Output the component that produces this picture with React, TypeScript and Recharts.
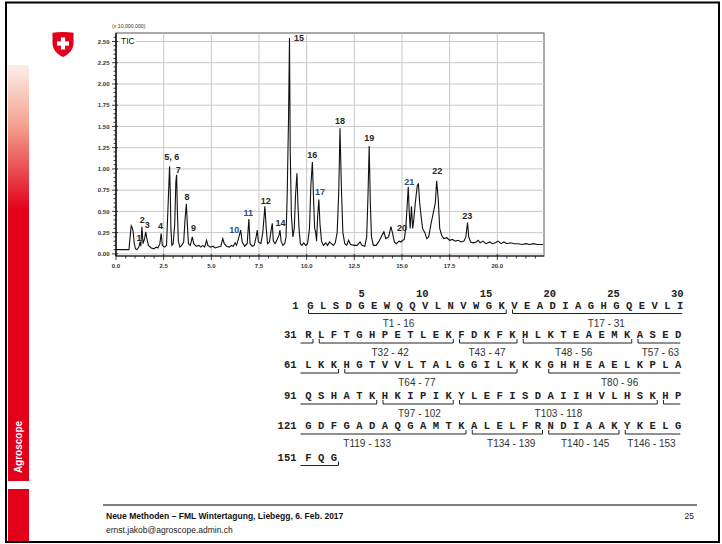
import React from "react";
import { CartesianGrid, Line, LineChart, ReferenceDot, XAxis, YAxis } from "recharts";

// TIC trace: retention time (min) and intensity (x 10,000,000)
const rtMin = [
  0.0, 0.35, 0.68, 0.74, 0.8, 0.86, 0.9, 0.96, 1.02, 1.1,
  1.2, 1.26, 1.3, 1.36, 1.42, 1.5, 1.56, 1.62, 1.7, 1.85,
  2.0, 2.1, 2.2, 2.3, 2.37, 2.43, 2.55, 2.65, 2.72, 2.77,
  2.81, 2.85, 2.88, 2.93, 3.0, 3.08, 3.14, 3.18, 3.22, 3.27,
  3.35, 3.45, 3.55, 3.62, 3.69, 3.74, 3.8, 3.9, 4.0, 4.08,
  4.2, 4.35, 4.45, 4.55, 4.65, 4.75, 4.82, 4.95, 5.1, 5.2,
  5.35, 5.5, 5.6, 5.68, 5.8, 5.95, 6.05, 6.15, 6.25, 6.32,
  6.45, 6.54, 6.62, 6.75, 6.88, 6.97, 7.03, 7.15, 7.25, 7.35,
  7.41, 7.47, 7.6, 7.7, 7.81, 7.88, 7.95, 8.05, 8.15, 8.2,
  8.25, 8.35, 8.45, 8.55, 8.6, 8.66, 8.75, 8.85, 8.92, 8.98,
  9.05, 9.1, 9.14, 9.2, 9.28, 9.35, 9.42, 9.49, 9.54, 9.6,
  9.67, 9.75, 9.85, 9.95, 10.05, 10.15, 10.22, 10.3, 10.37, 10.42,
  10.47, 10.52, 10.58, 10.64, 10.7, 10.78, 10.88, 11.0, 11.1, 11.2,
  11.3, 11.4, 11.5, 11.6, 11.68, 11.75, 11.82, 11.9, 12.0, 12.1,
  12.2, 12.3, 12.5, 12.65, 12.8, 12.9, 13.05, 13.15, 13.22, 13.28,
  13.34, 13.4, 13.5, 13.65, 13.8, 13.95, 14.05, 14.15, 14.3, 14.42,
  14.5, 14.6, 14.7, 14.85, 14.95, 15.05, 15.12, 15.2, 15.28, 15.33,
  15.38, 15.43, 15.5, 15.56, 15.62, 15.7, 15.8, 15.86, 15.93, 16.0,
  16.08, 16.2, 16.3, 16.4, 16.52, 16.64, 16.75, 16.82, 16.9, 16.98,
  17.08, 17.2, 17.35, 17.5, 17.65, 17.8, 17.95, 18.1, 18.25, 18.35,
  18.44, 18.5, 18.6, 18.75, 18.9, 19.0, 19.1, 19.25, 19.4, 19.6,
  19.75, 19.9, 20.05, 20.2, 20.35, 20.5, 20.7, 20.9, 21.1, 21.3,
  21.5, 21.7, 21.9, 22.1, 22.4,
];
const ticE7 = [
  0.05, 0.05, 0.05, 0.2, 0.33, 0.3, 0.26, 0.12, 0.06, 0.05,
  0.08, 0.14, 0.09, 0.32, 0.12, 0.18, 0.26, 0.18, 0.1, 0.07,
  0.06, 0.08, 0.07, 0.12, 0.24, 0.1, 0.08, 0.1, 0.5, 0.8,
  1.03, 0.7, 0.3, 0.1, 0.12, 0.35, 0.85, 0.93, 0.5, 0.15,
  0.08, 0.1, 0.14, 0.4, 0.59, 0.35, 0.12, 0.1, 0.2, 0.12,
  0.09, 0.1, 0.08, 0.1, 0.08, 0.16, 0.1, 0.08, 0.09, 0.07,
  0.08, 0.09, 0.18, 0.12, 0.09, 0.08, 0.1, 0.09, 0.13, 0.1,
  0.2, 0.28, 0.14, 0.09, 0.12, 0.41, 0.12, 0.09, 0.1, 0.2,
  0.28, 0.14, 0.12, 0.25, 0.56, 0.3, 0.12, 0.14, 0.3, 0.36,
  0.15, 0.12, 0.17, 0.22, 0.28, 0.15, 0.1, 0.12, 0.2, 0.7,
  1.6, 2.54, 1.2, 0.45, 0.2, 0.3, 0.7, 0.95, 0.6, 0.3,
  0.12, 0.1, 0.13, 0.1, 0.12, 0.3, 0.8, 1.08, 0.6, 0.3,
  0.26, 0.15, 0.45, 0.64, 0.35, 0.15, 0.1, 0.13, 0.1, 0.14,
  0.12, 0.1, 0.13, 0.25, 0.7, 1.48, 0.8, 0.25, 0.12, 0.1,
  0.16, 0.11, 0.1, 0.1, 0.14, 0.1, 0.09, 0.2, 0.7, 1.27,
  0.6, 0.2, 0.1, 0.1, 0.15, 0.22, 0.26, 0.18, 0.2, 0.32,
  0.25, 0.14, 0.12, 0.15, 0.14, 0.16, 0.17, 0.3, 0.6, 0.79,
  0.5, 0.3, 0.56, 0.3, 0.4, 0.6, 0.8, 0.83, 0.6, 0.45,
  0.3, 0.25, 0.18, 0.2, 0.35, 0.48, 0.6, 0.86, 0.65, 0.3,
  0.22, 0.18, 0.19, 0.16, 0.17, 0.15, 0.16, 0.14, 0.15, 0.2,
  0.37, 0.2, 0.14, 0.13, 0.14, 0.16, 0.13, 0.15, 0.12, 0.14,
  0.12, 0.13, 0.15, 0.12, 0.14, 0.12, 0.13, 0.12, 0.12, 0.11,
  0.12, 0.11, 0.12, 0.11, 0.11,
];

// peak numbers and where their labels sit
const peakIds = ["1", "2", "3", "4", "5, 6", "7", "8", "9", "10", "11", "12", "14", "15", "16", "17", "18", "19", "20", "21", "22", "23"];
const peakLabelRt = [1.21, 1.38, 1.64, 2.34, 2.92, 3.27, 3.72, 4.06, 6.2, 6.94, 7.85, 8.63, 9.6, 10.3, 10.7, 11.75, 13.28, 15.0, 15.38, 16.85, 18.42];
const peakLabelTic = [0.19, 0.4, 0.34, 0.33, 1.14, 0.99, 0.67, 0.31, 0.28, 0.48, 0.63, 0.36, 2.54, 1.17, 0.73, 1.57, 1.37, 0.31, 0.85, 0.98, 0.45];
const bluePeaks = ["10", "11", "17", "21"];

const xMajorTicks = [0, 2.5, 5, 7.5, 10, 12.5, 15, 17.5, 20];
const yMajorTicks = [0, 0.25, 0.5, 0.75, 1, 1.25, 1.5, 1.75, 2, 2.25, 2.5];
const xMinorTicks = Array.from({ length: 45 }, (_, i) => i * 0.5);
const yMinorTicks = Array.from({ length: 52 }, (_, i) => +(i * 0.05).toFixed(2));

// protein sequence and tryptic peptides
const seqRows = [
  "GLSDGEWQQVLNVWGKVEADIAGHGQEVLI",
  "RLFTGHPETLEKFDKFKHLKTEAEMKASED",
  "LKKHGTVVLTALGGILKKKGHHEAELKPLA",
  "QSHATKHKIPIKYLEFISDAIIHVLHSKHP",
  "GDFGADAQGAMTKALELFRNDIAAKYKELG",
  "FQG",
];
const seqRowStart = [1, 31, 61, 91, 121, 151];
const posMarks = [5, 10, 15, 20, 25, 30];
const peptideFrom = [1, 17, 32, 43, 48, 57, 64, 80, 97, 103, 119, 134, 140, 146];
const peptideTo = [16, 31, 42, 47, 56, 63, 77, 96, 102, 118, 133, 139, 145, 153];
const peptideLabelAt = [7.9, 24.2, 37.4, 45.0, 51.8, 58.6, 69.5, 85.4, 99.7, 110.6, 125.6, 136.9, 142.7, 147.9];

const data = rtMin.map((t, i) => ({ t, v: ticE7[i] }));

const SANS = "'Liberation Sans', Arial, sans-serif";
const MONO = "'Liberation Mono', 'Courier New', monospace";
const RED = "#e2001a";

const rowX0 = [310.5, 308.5, 308.5, 308.5, 308.5, 308.5];
const rowY = [305, 334.5, 364.5, 395.5, 425.5, 457];
const STEP = 12.75;
const SEQ_SIZE = 10.5;

const isMajor = (list: number[], v: number) => list.some((m) => Math.abs(m - v) < 1e-6);

function resX(n: number) {
  const row = Math.floor((n - 1) / 30);
  return rowX0[row] + (n - seqRowStart[row]) * STEP;
}

function YTick(props: any) {
  const { x, y, payload } = props;
  const major = isMajor(yMajorTicks, payload.value);
  return (
    <g>
      <line x1={x - (major ? 4 : 2.5)} x2={x + (major ? 2 : 0)} y1={y} y2={y} stroke="#111" strokeWidth={0.8} />
      {major && (
        <text x={x - 6.5} y={y} dy="0.35em" textAnchor="end" fontSize={6} fontWeight="bold" fontFamily={SANS} fill="#333">
          {payload.value.toFixed(2)}
        </text>
      )}
    </g>
  );
}

function XTick(props: any) {
  const { x, y, payload } = props;
  const major = isMajor(xMajorTicks, payload.value);
  return (
    <g>
      <line x1={x} x2={x} y1={y - (major ? 2 : 0)} y2={y + (major ? 4 : 2.5)} stroke="#111" strokeWidth={0.8} />
      {major && (
        <text x={x} y={y + 10} dy="0.35em" textAnchor="middle" fontSize={6} fontWeight="bold" fontFamily={SANS} fill="#333">
          {payload.value.toFixed(1)}
        </text>
      )}
    </g>
  );
}

function Sequence() {
  const parts: React.ReactNode[] = [];
  seqRows.forEach((row, r) => {
    parts.push(
      <text key={`n${r}`} x={rowX0[r] - 12} y={rowY[r]} dy="0.35em" textAnchor="end" fontFamily={MONO} fontWeight="bold" fontSize={SEQ_SIZE} fill="#222">
        {seqRowStart[r]}
      </text>
    );
    row.split("").forEach((aa, i) => {
      parts.push(
        <text key={`a${r}-${i}`} x={rowX0[r] + i * STEP} y={rowY[r]} dy="0.35em" textAnchor="middle" fontFamily={MONO} fontWeight="bold" fontSize={SEQ_SIZE} fill="#222">
          {aa}
        </text>
      );
    });
  });
  posMarks.forEach((p) => {
    parts.push(
      <text key={`p${p}`} x={resX(p) + 3.3} y={293.5} dy="0.35em" textAnchor="end" fontFamily={MONO} fontWeight="bold" fontSize={SEQ_SIZE} fill="#222">
        {p}
      </text>
    );
  });
  peptideFrom.forEach((from, k) => {
    const to = peptideTo[k];
    const r0 = Math.floor((from - 1) / 30);
    const r1 = Math.floor((to - 1) / 30);
    for (let r = r0; r <= r1; r++) {
      const openL = r > r0;
      const openR = r < r1;
      const rowEnd = seqRowStart[r] + seqRows[r].length - 1;
      const x1 = openL ? rowX0[r] - 8 : resX(from) - 2;
      const x2 = openR ? resX(rowEnd) + 2 : resX(to) + 4.5;
      const by = rowY[r] + 8.5;
      parts.push(
        <path
          key={`b${k}-${r}`}
          d={`M${x1} ${by - (openL ? 0 : 4)} L${x1} ${by} L${x2} ${by} L${x2} ${by - (openR ? 0 : 4)}`}
          fill="none"
          stroke="#222"
          strokeWidth={1}
        />
      );
    }
    const la = peptideLabelAt[k];
    const lr = Math.floor((la - 1) / 30);
    parts.push(
      <text key={`l${k}`} x={rowX0[lr] + (la - seqRowStart[lr]) * STEP} y={rowY[lr] + 18} dy="0.35em" textAnchor="middle" fontFamily={SANS} fontSize={10} fill="#333">
        {`T${from} - ${to}`}
      </text>
    );
  });
  return <g>{parts}</g>;
}

export default function App() {
  return (
    <div style={{ position: "absolute", left: 0, top: 0, width: 722, height: 544, background: "#fff", overflow: "hidden" }}>
      <svg width={722} height={544} style={{ position: "absolute", left: 0, top: 0 }}>
        <defs>
          <linearGradient id="barGrad" gradientUnits="userSpaceOnUse" x1="0" y1="65" x2="0" y2="210">
            <stop offset="0" stopColor="#fdeee8" />
            <stop offset="0.4" stopColor="#f4a593" />
            <stop offset="1" stopColor={RED} />
          </linearGradient>
        </defs>
        <rect x={8} y={65} width={21} height={416} fill="url(#barGrad)" />
        <rect x={8} y={489} width={21} height={53} fill={RED} />
        <text transform="translate(18.5,447) rotate(-90)" textAnchor="middle" dy="0.35em" fill="#fff" fontWeight="bold" fontSize={10} fontFamily={SANS}>
          Agroscope
        </text>
        <g transform="translate(52,32)">
          <path d="M0.5 0.8 Q11 -0.6 21.5 0.8 L21.5 11 C21.5 18 16.5 22.5 11 25 C5.5 22.5 0.5 18 0.5 11 Z" fill={RED} />
          <rect x={5} y={9.4} width={12} height={4.2} fill="#fff" />
          <rect x={8.9} y={5.5} width={4.2} height={12} fill="#fff" />
        </g>
        <text x={112} y={26.5} dy="0.35em" fontSize={5.2} fontFamily={SANS} fill="#333">
          (x 10,000,000)
        </text>
        <rect x={116} y={33} width={428} height={223} fill="none" stroke="#555" strokeWidth={1} />
        <Sequence />
        <line x1={103} x2={697} y1={505} y2={505} stroke="#000" strokeWidth={1} />
        <text x={106} y={519} fontSize={8.5} fontWeight="bold" fontFamily={SANS} fill="#111">
          Neue Methoden – FML Wintertagung, Liebegg, 6. Feb. 2017
        </text>
        <text x={106} y={533} fontSize={8.5} fontFamily={SANS} fill="#222">
          ernst.jakob@agroscope.admin.ch
        </text>
        <text x={694} y={519} fontSize={8.5} textAnchor="end" fontFamily={SANS} fill="#222">
          25
        </text>
        <rect x={6} y={2.5} width={713} height={539.5} fill="none" stroke="#000" strokeWidth={2} />
      </svg>
      <div style={{ position: "absolute", left: 80, top: 20 }}>
        <LineChart width={480} height={260} data={data} margin={{ top: 13, right: 16, bottom: 4, left: 0 }}>
          <CartesianGrid horizontalValues={yMajorTicks} verticalValues={xMajorTicks} stroke="#c8c8c8" strokeWidth={1} />
          <XAxis
            dataKey="t"
            type="number"
            domain={[0, 22.45]}
            allowDataOverflow
            ticks={xMinorTicks}
            interval={0}
            height={20}
            tickSize={0}
            tickMargin={0}
            tickLine={false}
            tick={<XTick />}
            axisLine={{ stroke: "#111", strokeWidth: 1.2 }}
          />
          <YAxis
            type="number"
            domain={[-0.025, 2.6]}
            allowDataOverflow
            ticks={yMinorTicks}
            interval={0}
            width={36}
            tickSize={0}
            tickMargin={0}
            tickLine={false}
            tick={<YTick />}
            axisLine={{ stroke: "#111", strokeWidth: 1.5 }}
          />
          <Line type="linear" dataKey="v" stroke="#111" strokeWidth={1.1} dot={false} isAnimationActive={false} />
          {peakIds.map((id, i) => (
            <ReferenceDot
              key={id}
              x={peakLabelRt[i]}
              y={peakLabelTic[i]}
              r={1}
              fill="none"
              stroke="none"
              ifOverflow="visible"
              label={{
                value: id,
                position: "center",
                fontSize: 9,
                fontWeight: "bold",
                fontFamily: SANS,
                fill: bluePeaks.includes(id) ? "#2a4f86" : "#2b2626",
              }}
            />
          ))}
        </LineChart>
      </div>
      <div
        style={{
          position: "absolute",
          left: 120,
          top: 36,
          fontSize: 8.5,
          lineHeight: "10px",
          fontFamily: SANS,
          color: "#111",
          background: "#fff",
          padding: "0 1px",
        }}
      >
        TIC
      </div>
    </div>
  );
}
